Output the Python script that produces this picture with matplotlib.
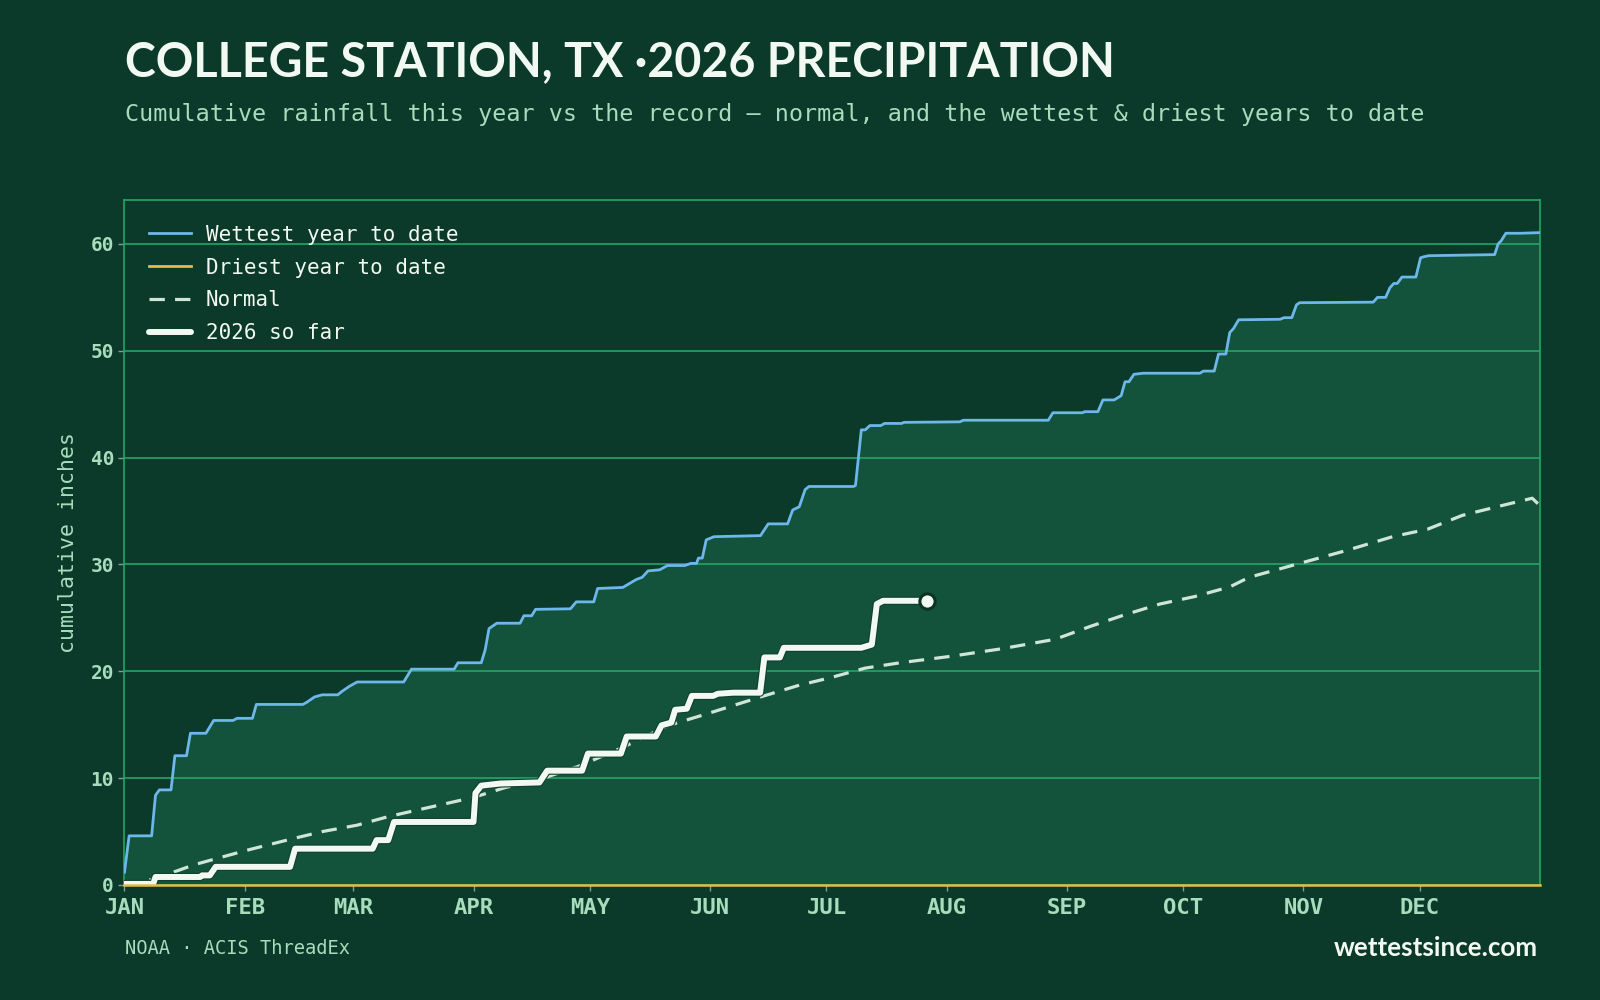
import matplotlib
matplotlib.use("Agg")
import matplotlib.pyplot as plt
import matplotlib.patheffects as pe
from matplotlib.lines import Line2D

# ---------------- data ----------------
month_labels = ["JAN", "FEB", "MAR", "APR", "MAY", "JUN", "JUL", "AUG", "SEP", "OCT", "NOV", "DEC"]
month_start_day = [0, 31, 59, 90, 120, 151, 181, 212, 243, 273, 304, 334]
y_ticks = [0, 10, 20, 30, 40, 50, 60]

wettest_day = [0, 1.2, 7, 8, 9, 12, 13, 16, 17, 21, 23, 28, 29, 33, 34, 46, 47, 49, 51, 55, 56, 58, 60,
               72, 74, 85, 86, 92, 93, 94, 96, 102, 103, 105, 106, 115, 116.5, 121, 122, 128.5, 132,
               133.5, 135, 138, 140, 144.5, 146, 147.5, 148, 149, 150, 152, 164, 166, 171, 172.3, 174,
               175.5, 176.5, 188, 188.5, 190, 191, 192.2, 195, 196, 200.4, 201, 215.4, 216.3, 238.2,
               239.4, 247, 247.6, 251, 252.3, 255.2, 257, 258, 259, 260.3, 262.7, 277.3, 278.2, 281,
               282.1, 284, 285, 286, 287.3, 298, 299, 301, 302.2, 303, 322, 323.1, 325.2, 326.3, 327.3,
               328.2, 329.4, 333, 334.2, 335, 336.3, 353.3, 354.2, 355, 356.2, 360, 365]
wettest_in = [1.2, 4.6, 4.6, 8.4, 8.9, 8.9, 12.1, 12.1, 14.2, 14.2, 15.4, 15.4, 15.6, 15.6, 16.9, 16.9,
              17.1, 17.6, 17.8, 17.8, 18.1, 18.6, 19.0, 19.0, 20.2, 20.2, 20.8, 20.8, 22.0, 24.0, 24.5,
              24.5, 25.2, 25.2, 25.8, 25.85, 26.5, 26.5, 27.75, 27.85, 28.6, 28.8, 29.4, 29.5, 29.9,
              29.9, 30.1, 30.1, 30.6, 30.6, 32.3, 32.6, 32.7, 33.8, 33.8, 35.1, 35.4, 37.0, 37.3, 37.3,
              37.4, 42.6, 42.6, 43.0, 43.0, 43.2, 43.2, 43.3, 43.35, 43.5, 43.5, 44.2, 44.2, 44.3, 44.3,
              45.4, 45.4, 45.8, 47.1, 47.1, 47.8, 47.9, 47.9, 48.1, 48.1, 49.7, 49.7, 51.7, 52.1, 52.9,
              52.95, 53.1, 53.1, 54.3, 54.5, 54.55, 55.0, 55.0, 55.9, 56.3, 56.3, 56.9, 56.9, 58.7, 58.8,
              58.9, 59.0, 60.0, 60.3, 61.0, 61.0, 61.06]

driest_day = [0, 365]
driest_in = [0.0, 0.0]

normal_day = [0, 8, 18, 31, 43, 51, 60, 68, 79, 90, 98, 108, 117, 128, 140, 150, 164, 174, 182, 191,
              200, 213, 226, 240, 249, 258, 267, 276, 285, 290, 297, 304, 315, 327, 336, 345, 355, 363, 365]
normal_in = [0.0, 0.6, 1.9, 3.2, 4.3, 5.0, 5.6, 6.4, 7.3, 8.2, 9.1, 10.0, 11.1, 12.8, 14.9, 16.0, 17.6,
             18.7, 19.4, 20.3, 20.8, 21.4, 22.1, 23.0, 24.2, 25.3, 26.3, 27.0, 27.9, 28.8, 29.5, 30.2,
             31.3, 32.6, 33.3, 34.6, 35.5, 36.2, 35.5]

y2026_day = [0, 7.4, 8, 19.5, 20, 22, 23.5, 42.7, 44, 64, 65, 68, 69.5, 90, 90.5, 92, 97, 107, 109, 118,
             119.5, 128, 129.5, 137, 138.5, 141, 142, 145, 146.3, 151.8, 153, 157, 163.9, 165, 169, 170,
             190, 192.7, 194, 195.6, 207]
y2026_in = [0.1, 0.1, 0.75, 0.75, 0.9, 0.9, 1.7, 1.7, 3.4, 3.4, 4.2, 4.2, 5.9, 5.9, 8.6, 9.3, 9.5, 9.6,
            10.7, 10.7, 12.3, 12.3, 13.9, 13.9, 14.95, 15.2, 16.4, 16.5, 17.7, 17.7, 17.9, 18.0, 18.0,
            21.3, 21.3, 22.2, 22.2, 22.5, 26.3, 26.6, 26.6]

labels = ["Wettest year to date", "Driest year to date", "Normal", "2026 so far"]

# ---------------- style ----------------
BG = "#0c3a2a"
FILL = "#13523b"
GRID = "#22a567"
BLUE = "#6db7ea"
GOLD = "#e8b84a"
NORMAL = "#cfe5d6"
WHITE = "#f2f9f2"
MINT = "#a8dcbc"
MONO = "DejaVu Sans Mono"
SANS = ["Lato", "DejaVu Sans"]

fig = plt.figure(figsize=(16, 10), dpi=100, facecolor=BG)
ax = fig.add_axes([0.0778, 0.115, 0.9625 - 0.0778, 0.80 - 0.115])
ax.set_facecolor(BG)

ax.fill_between(wettest_day, 0, wettest_in, color=FILL, lw=0, zorder=1)
ax.plot(wettest_day, wettest_in, color=BLUE, lw=2.0, zorder=3, solid_joinstyle="round")
ax.plot(normal_day, normal_in, color=NORMAL, lw=2.3, ls=(0, (4.8, 3.2)), zorder=3)
ax.plot(driest_day, driest_in, color=GOLD, lw=1.8, zorder=6, clip_on=False)
stroke = [pe.Stroke(linewidth=5.9, foreground="#0f4030"), pe.Normal()]
ax.plot(y2026_day, y2026_in, color=WHITE, lw=4.3, zorder=5, solid_joinstyle="round",
        solid_capstyle="round", path_effects=stroke)
ax.plot(y2026_day[-1:], y2026_in[-1:], marker="o", ms=11, mfc=WHITE, mec="#0b3324", mew=2.2,
        zorder=7, ls="none")

ax.set_xlim(0, 365)
ax.set_ylim(0, max(wettest_in) * 1.05)
ax.set_xticks(month_start_day)
ax.set_xticklabels(month_labels)
ax.set_yticks(y_ticks)
ax.grid(axis="y", color=GRID, lw=1.2, zorder=2)
ax.grid(axis="x", visible=False)
for s in ax.spines.values():
    s.set_color(GRID)
    s.set_linewidth(1.2)
ax.tick_params(axis="both", colors="#7f9f8e", length=4, width=1)
ax.tick_params(axis="x", labelcolor=MINT, pad=5.5, labelsize=16)
ax.tick_params(axis="y", labelcolor=MINT, pad=3.5, labelsize=14)
for lab in ax.get_xticklabels() + ax.get_yticklabels():
    lab.set_fontfamily(MONO)
    lab.set_fontweight("bold")

ax.set_ylabel("cumulative inches", family=MONO, fontsize=15.5, color=MINT)
ax.yaxis.set_label_coords(-0.033, 0.5)

handles = [Line2D([], [], color=BLUE, lw=2.0),
           Line2D([], [], color=GOLD, lw=2.0),
           Line2D([], [], color=NORMAL, lw=2.3, ls=(0, (4.8, 3.2))),
           Line2D([], [], color=WHITE, lw=4.3, solid_capstyle="round")]
leg = ax.legend(handles, labels, loc="upper left", bbox_to_anchor=(0.0173, 0.964), frameon=False,
                borderpad=0, borderaxespad=0, handlelength=2.0, handletextpad=0.72, labelspacing=0.62,
                prop={"family": MONO, "size": 15})
for t in leg.get_texts():
    t.set_color(WHITE)

# ---------------- texts ----------------
title = fig.text(125.5 / 1600, 1 - 76.5 / 1000, "COLLEGE STATION, TX ·2026 PRECIPITATION",
                 family=SANS, weight="bold", fontsize=36, color=WHITE, ha="left", va="baseline")
fig.text(125.5 / 1600, 1 - 115 / 1000,
         "Cumulative rainfall this year vs the record — normal, and the wettest & driest years to date",
         family=MONO, fontsize=16.8, color=MINT, ha="left", va="center")
fig.text(125.5 / 1600, 1 - 949 / 1000, "NOAA · ACIS ThreadEx", family=MONO, fontsize=13.5,
         color=MINT, ha="left", va="center")
site = fig.text(1538 / 1600, 1 - 948 / 1000, "wettestsince.com", family=SANS, weight="bold",
                fontsize=17, color=WHITE, ha="right", va="center")

fig.canvas.draw()
r = fig.canvas.get_renderer()
for txt, target in ((title, 990.0), (site, 204.0)):
    w = txt.get_window_extent(r).width
    txt.set_fontsize(txt.get_fontsize() * target / w)

fig.savefig("out.png", dpi=100, facecolor=BG)
